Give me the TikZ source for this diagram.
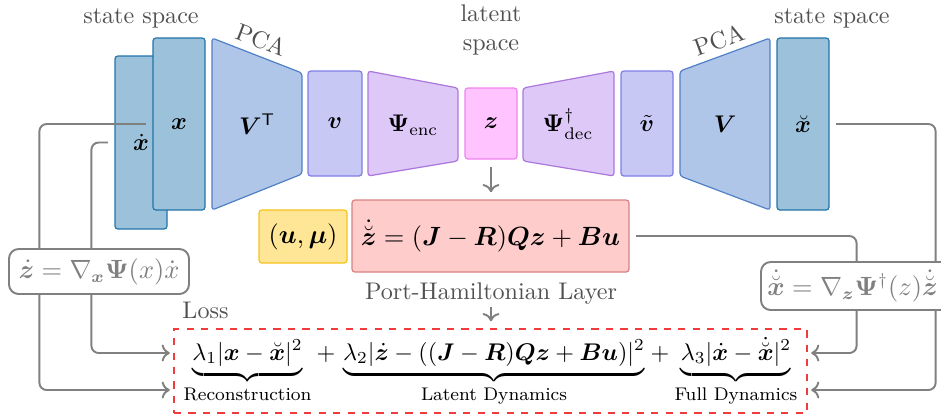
\documentclass[tikz,border=0pt]{standalone}
\usepackage{amsmath,amssymb,bm}
\usetikzlibrary{fit,calc,arrows.meta}
\definecolor{stfill}{RGB}{155,194,218}
\definecolor{stdraw}{RGB}{35,115,170}
\definecolor{pcafill}{RGB}{176,198,232}
\definecolor{pcadraw}{RGB}{80,128,198}
\definecolor{vfill}{RGB}{200,200,245}
\definecolor{vdraw}{RGB}{125,125,230}
\definecolor{psifill}{RGB}{222,200,248}
\definecolor{psidraw}{RGB}{170,120,220}
\definecolor{zfill}{RGB}{255,196,255}
\definecolor{zdraw}{RGB}{240,130,240}
\definecolor{yfill}{RGB}{255,230,150}
\definecolor{ydraw}{RGB}{245,195,30}
\definecolor{phfill}{RGB}{255,204,204}
\definecolor{phdraw}{RGB}{215,130,130}
\definecolor{losscol}{RGB}{240,60,60}
\definecolor{conncol}{RGB}{128,128,128}
\definecolor{lblcol}{RGB}{80,80,80}
\newcommand{\midfont}{\fontsize{11.3}{13.5}\selectfont}
\newcommand{\gradfont}{\fontsize{10.6}{12.5}\selectfont}
\newcommand{\lossfont}{\fontsize{10.3}{12.5}\selectfont}
\newcommand{\bracelbl}[1]{\text{\fontsize{7.6}{9}\selectfont #1}}
\begin{document}
\begin{tikzpicture}[x=0.415pt,y=-0.415pt,
  blk/.style={inner sep=0pt, rounded corners=1.2pt, line width=0.5pt},
  stbox/.style={blk, draw=stdraw, fill=stfill},
  vbox/.style={blk, draw=vdraw, fill=vfill},
  zbox/.style={blk, draw=zdraw, fill=zfill},
  ybox/.style={blk, draw=ydraw, fill=yfill},
  phbox/.style={blk, draw=phdraw, fill=phfill},
  pcatrap/.style={draw=pcadraw, fill=pcafill, rounded corners=1.2pt, line width=0.5pt},
  psitrap/.style={draw=psidraw, fill=psifill, rounded corners=1.2pt, line width=0.5pt},
  lbl/.style={text=lblcol, inner sep=0pt},
  txt/.style={inner sep=0pt},
  conn/.style={draw=conncol, line width=0.8pt, rounded corners=3pt, ->, shorten <=2.7pt, shorten >=1.5pt},
  arr/.style={draw=conncol, line width=0.8pt, ->},
  gbox/.style={draw=conncol, line width=0.8pt, fill=white, rounded corners=4pt, inner sep=0pt},
  gtxt/.style={text=conncol, inner sep=0pt},
  lossbox/.style={draw=losscol, dashed, line width=0.5pt, inner sep=0pt},
  term/.style={anchor=base, inner sep=0pt},
]
\useasboundingbox (0,0) rectangle (941,414);

% encoder / decoder chain
\node[stbox, fit={(115,56) (167,229)}] (xdot) {};
\node[txt] (xdotl) at (xdot.center) {$\dot{\bm x}$};
\node[stbox, fit={(153,38) (205,210)}] (x) {};
\node[txt] (xl) at (x.center) {$\bm x$};
\draw[pcatrap] (212,38) -- (302,73) -- (302,174) -- (212,210) -- cycle;
\node[txt] (VT) at (257,124) {$\bm V^{\mathsf T}$};
\node[vbox, fit={(308,71) (362,176)}] (v) {};
\node[txt] (vl) at (v.center) {$\bm v$};
\draw[psitrap] (368,71) -- (458,88) -- (458,161) -- (368,176) -- cycle;
\node[txt] (enc) at (413,125) {$\bm\Psi_{\text{enc}}$};
\node[zbox, fit={(465,88) (517,159)}] (z) {};
\node[txt] (zl) at (z.center) {$\bm z$};
\draw[psitrap] (523,88) -- (614,71) -- (614,176) -- (523,161) -- cycle;
\node[txt] (dec) at (568,124) {$\bm\Psi^{\dagger}_{\text{dec}}$};
\node[vbox, fit={(621,71) (673,176)}] (vt) {};
\node[txt] (vtl) at (vt.center) {$\tilde{\bm v}$};
\draw[pcatrap] (680,71) -- (770,38) -- (770,210) -- (680,176) -- cycle;
\node[txt] (V) at (725,124) {$\bm V$};
\node[stbox, fit={(777,38) (829,210)}] (xb) {};
\node[txt] (xbl) at (xb.center) {$\breve{\bm x}$};

% labels
\node[lbl, anchor=base] (ssl) at (141,23) {state space};
\node[lbl, anchor=base] (ssr) at (832,23) {state space};
\node[lbl, align=center] (lat) at (491,30) {latent\\space};
\node[lbl, rotate=-21] (pcal) at (261,40) {PCA};
\node[lbl, rotate=20] (pcar) at (719,40) {PCA};

% port-Hamiltonian layer
\node[ybox, fit={(259,210) (347,263)}] (u) {};
\node[txt] (ul) at (u.center) {\midfont$(\bm u,\bm\mu)$};
\node[phbox, fit={(352,200) (629,272)}] (ph) {};
\node[txt] (phf) at (ph.center) {\midfont$\dot{\breve{\bm z}} = (\bm J-\bm R)\bm Q\bm z+\bm B\bm u$};
\node[lbl, anchor=base, inner sep=1pt] (phl) at (491,299) {Port-Hamiltonian Layer};
\draw[arr, shorten <=3pt, shorten >=3pt] (z.south) -- (z.south |- ph.north);

% loss
\node[lossbox, fit={(174,329) (807,413)}] (loss) {};
\node[lbl, anchor=base west] (losslbl) at (182,318) {Loss};
\draw[arr, shorten >=3pt] (phl.south) -- (phl.south |- loss.north);
\node[term] (t1) at (247.5,360) {\lossfont$\underbrace{\lambda_1|\bm x-\breve{\bm x}|^2}_{\bracelbl{Reconstruction}}$};
\node[term] (p1) at (326,360) {\lossfont$+$};
\node[term] (t2) at (494,360) {\lossfont$\underbrace{\lambda_2|\dot{\bm z}-((\bm J-\bm R)\bm Q\bm z+\bm B\bm u)|^2}_{\bracelbl{Latent Dynamics}}$};
\node[term] (p2) at (660,360) {\lossfont$+$};
\node[term] (t3) at (736,360) {\lossfont$\underbrace{\lambda_3|\dot{\bm x}-\dot{\breve{\bm x}}|^2}_{\bracelbl{Full Dynamics}}$};

% connectors
\draw[conn] (x.west) -- ++(-113,0) |- (loss.west |- 0,390);
\draw[conn] (xdot.west) -- ++(-23,0) |- (loss.west |- 0,353);
\draw[conn] (xb.east) -- ++(106,0) |- (loss.east |- 0,390);
\draw[conn] (ph.east) -- ++(227,0) |- (loss.east |- 0,353);

% gradient boxes
\node[gbox, fit={(9,249) (189,294)}] (gl) {};
\node[gtxt] (glf) at (gl.center) {\gradfont$\dot{\bm z} = \nabla_{\bm x}\bm\Psi(x)\dot{x}$};
\node[gbox, fit={(761,262) (960,310)}] (gr) {};
\node[gtxt, anchor=west] (grf) at (767,286) {\gradfont$\dot{\breve{\bm x}} = \nabla_{\bm z}\bm\Psi^{\dagger}(z)\dot{\breve{\bm z}}$};
\end{tikzpicture}
\end{document}
